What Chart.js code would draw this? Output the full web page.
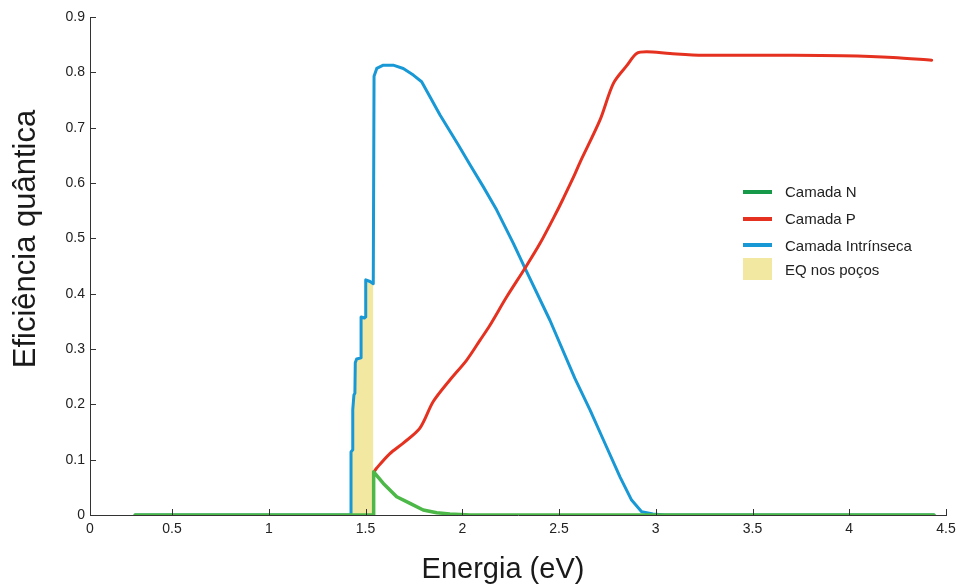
<!DOCTYPE html>
<html>
<head>
<meta charset="utf-8">
<script src="https://cdn.jsdelivr.net/npm/chart.js@4.4.1/dist/chart.umd.min.js"></script>
<style>
  body { margin: 0; background: #fff; }
  #wrap { position: relative; width: 966px; height: 587px; }
  #legend { position: absolute; left: 0; top: 0; font-family: 'Liberation Sans', Arial, sans-serif; font-size: 15px; color: #222; }
  .item { position: absolute; left: 743px; display: flex; align-items: center; height: 22px; white-space: nowrap; }
  .swatch { width: 29px; margin-right: 13px; }
</style>
</head>
<body>
<div id="wrap">
  <canvas id="qeChart"></canvas>
  <div id="legend"></div>
</div>
<script>
// Eficiência quântica por camada
const camadaN_x = [0.309, 1.540, 1.542, 1.592, 1.661, 1.730, 1.798, 1.868, 1.936, 2.040, 4.438];
const camadaN_y = [0, 0, 0.078, 0.057, 0.033, 0.021, 0.009, 0.004, 0.002, 0, 0];

const camadaP_x = [1.544, 1.558, 1.626, 1.695, 1.781, 1.850, 1.936, 2.023, 2.092, 2.143, 2.229, 2.324, 2.402,
                   2.488, 2.522, 2.574, 2.608, 2.712, 2.781, 2.850, 2.901, 2.953, 3.074, 3.245, 3.709, 3.967, 4.226, 4.426];
const camadaP_y = [0.078, 0.085, 0.111, 0.130, 0.157, 0.205, 0.244, 0.280, 0.316, 0.343, 0.394, 0.446, 0.491,
                   0.548, 0.572, 0.610, 0.637, 0.714, 0.780, 0.812, 0.834, 0.837, 0.834, 0.831, 0.831, 0.830, 0.827, 0.822];

const camadaI_x = [0.309, 1.425, 1.425, 1.434, 1.434, 1.440, 1.445, 1.447, 1.454, 1.477, 1.477, 1.494, 1.501, 1.501,
                   1.523, 1.540, 1.544, 1.558, 1.592, 1.643, 1.695, 1.747, 1.790, 1.833, 1.885, 1.979, 2.040, 2.109,
                   2.178, 2.264, 2.324, 2.453, 2.582, 2.660, 2.729, 2.815, 2.875, 2.927, 2.986, 3.048, 4.438];
const camadaI_y = [0, 0, 0.114, 0.118, 0.190, 0.217, 0.220, 0.275, 0.282, 0.284, 0.358, 0.356, 0.358, 0.425,
                   0.422, 0.418, 0.793, 0.807, 0.813, 0.813, 0.807, 0.795, 0.783, 0.756, 0.723, 0.669, 0.633, 0.593,
                   0.551, 0.491, 0.446, 0.352, 0.247, 0.190, 0.136, 0.069, 0.027, 0.006, 0.002, 0, 0];

// EQ nos poços (área sob a curva entre 1.42 e 1.54 eV)
const pocos_x = [1.425, 1.425, 1.434, 1.434, 1.440, 1.445, 1.447, 1.454, 1.477, 1.477, 1.494, 1.501, 1.501, 1.523, 1.540, 1.541];
const pocos_y = [0, 0.114, 0.118, 0.190, 0.217, 0.220, 0.275, 0.282, 0.284, 0.358, 0.356, 0.358, 0.425, 0.422, 0.418, 0];

const xTickValues = [0, 0.5, 1, 1.5, 2, 2.5, 3, 3.5, 4, 4.5];
const xMin = 0.076; // o eixo começa um pouco depois do zero no original
const xMax = 4.5;

function pts(xs, ys) {
    return xs.map((x, i) => ({ x: x, y: ys[i] }));
}

// Marcas dos eixos para dentro + títulos dos eixos
const axisDecor = {
    id: 'axisDecor',
    afterDraw(chart) {
        const ctx = chart.ctx;
        const xs = chart.scales.x, ys = chart.scales.y;
        ctx.save();
        ctx.strokeStyle = '#333';
        ctx.lineWidth = 1;
        ctx.beginPath();
        xs.ticks.forEach(t => {
            const px = Math.round(xs.getPixelForValue(t.value)) + 0.5;
            ctx.moveTo(px, ys.bottom);
            ctx.lineTo(px, ys.bottom - 6);
        });
        ys.ticks.forEach(t => {
            const py = Math.round(ys.getPixelForValue(t.value)) + 0.5;
            ctx.moveTo(xs.left, py);
            ctx.lineTo(xs.left + 6, py);
        });
        ctx.stroke();

        ctx.fillStyle = '#1a1a1a';
        ctx.textAlign = 'center';
        ctx.textBaseline = 'alphabetic';
        ctx.font = '29px "Liberation Sans", Arial, sans-serif';
        ctx.fillText('Energia (eV)', 503, 578);

        ctx.translate(35, 239);
        ctx.rotate(-Math.PI / 2);
        ctx.font = '31px "Liberation Sans", Arial, sans-serif';
        ctx.fillText('Eficiência quântica', 0, 0);
        ctx.restore();
    }
};

const ctx = document.getElementById('qeChart').getContext('2d');
const qeChart = new Chart(ctx, {
    type: 'line',
    data: {
        datasets: [
            {
                label: 'Camada N',
                data: pts(camadaN_x, camadaN_y),
                borderColor: '#4cb848',
                legendColor: '#17994a',
                borderWidth: 3.5,
                pointRadius: 0,
                fill: false
            },
            {
                label: 'Camada P',
                data: pts(camadaP_x, camadaP_y),
                borderColor: '#e5311f',
                borderWidth: 3,
                pointRadius: 0,
                tension: 0.3,
                fill: false
            },
            {
                label: 'Camada Intrínseca',
                data: pts(camadaI_x, camadaI_y),
                borderColor: '#1898d5',
                borderWidth: 3,
                pointRadius: 0,
                fill: false
            },
            {
                label: 'EQ nos poços',
                data: pts(pocos_x, pocos_y),
                borderWidth: 0,
                borderColor: 'rgba(0,0,0,0)',
                backgroundColor: '#f3e8a2',
                pointRadius: 0,
                fill: 'origin',
                isBox: true
            }
        ]
    },
    options: {
        responsive: true,
        maintainAspectRatio: false,
        animation: false,
        layout: { padding: { top: 17, right: 20, left: 0, bottom: 0 } },
        plugins: {
            legend: { display: false },
            tooltip: { enabled: false }
        },
        elements: { line: { tension: 0, borderJoinStyle: 'round', borderCapStyle: 'round' } },
        scales: {
            x: {
                type: 'linear',
                min: xMin,
                max: xMax,
                afterBuildTicks: scale => {
                    scale.ticks = xTickValues.map(v => ({ value: v === 0 ? xMin : v }));
                },
                afterFit: scale => { scale.height = 72; },
                grid: { display: false, drawTicks: false },
                border: { display: true, color: '#333', width: 1 },
                ticks: {
                    padding: 6,
                    color: '#222',
                    font: { family: '"Liberation Sans", Arial, sans-serif', size: 14 },
                    callback: v => (v < 0.1 ? '0' : String(v))
                }
            },
            y: {
                min: 0,
                max: 0.9,
                afterFit: scale => { scale.width = 90; },
                grid: { display: false, drawTicks: false },
                border: { display: true, color: '#333', width: 1 },
                ticks: {
                    stepSize: 0.1,
                    padding: 5,
                    color: '#222',
                    font: { family: '"Liberation Sans", Arial, sans-serif', size: 14 },
                    callback: v => (v === 0 ? '0' : v.toFixed(1))
                }
            }
        }
    },
    plugins: [axisDecor]
});

// Legenda em HTML, posicionada como no original
function buildLegend(chart) {
    const box = document.getElementById('legend');
    const rowCenters = [191.5, 218.5, 245, 269];
    box.innerHTML = '';
    chart.data.datasets.forEach((ds, i) => {
        const item = document.createElement('div');
        item.className = 'item';
        item.style.top = (rowCenters[i] - 11) + 'px';
        const sw = document.createElement('div');
        sw.className = 'swatch';
        if (ds.isBox) {
            sw.style.height = '22px';
            sw.style.background = ds.backgroundColor;
        } else {
            sw.style.height = '4px';
            sw.style.background = ds.legendColor || ds.borderColor;
        }
        const txt = document.createElement('span');
        txt.textContent = ds.label;
        item.appendChild(sw);
        item.appendChild(txt);
        box.appendChild(item);
    });
}
buildLegend(qeChart);
</script>
</body>
</html>
